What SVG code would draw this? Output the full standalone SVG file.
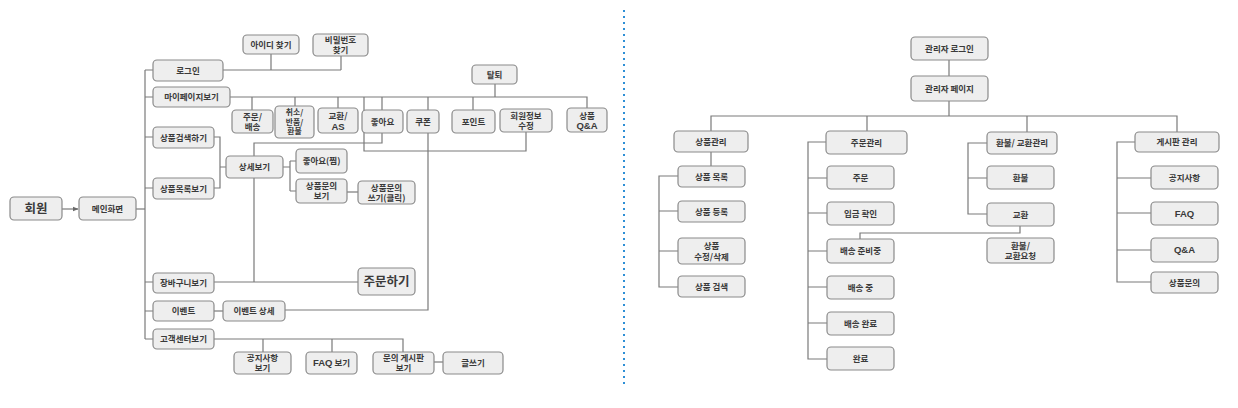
<svg xmlns="http://www.w3.org/2000/svg" width="1238" height="408" viewBox="0 0 1238 408">
<defs>
<style>
.n rect{fill:#eeeeee;stroke:#8a8a8a;stroke-width:1.2}
.n text{font-family:"Noto Sans CJK KR","Noto Sans",sans-serif;font-size:8.5px;font-weight:700;fill:#3a3a3a;text-anchor:middle}
.n text.big{font-size:12.5px}
.n text.sm{font-size:7.8px}
.n tspan.lat{font-family:"Liberation Sans",Arial,sans-serif;font-size:9.5px}
.c path{fill:none;stroke:#7a7a7a;stroke-width:1.2}
.div{stroke:#2e8fd6;stroke-width:2;stroke-dasharray:2 4}
</style>
<marker id="arr" viewBox="0 0 10 10" refX="9" refY="5" markerWidth="5" markerHeight="5" orient="auto">
<path d="M0,1 L10,5 L0,9 Z" fill="#6a6a6a"/>
</marker>
</defs>
<rect width="1238" height="408" fill="#ffffff"/>
<line class="div" x1="624" y1="10" x2="624" y2="388"/>

<g id="connectors" class="c">
<path d="M62,209 H78" marker-end="url(#arr)"/>
<path d="M136,209 H145"/>
<path d="M145,70 V339"/>
<path d="M145,70 H153 M145,97 H153 M145,137 H153 M145,188 H153 M145,282 H153 M145,311 H153 M145,339 H153"/>
<path d="M223,70 H341 M271,54 V70 M341,55 V70"/>
<path d="M230,97 H587 V108 M252,97 V110 M295,97 V106 M338,97 V108 M382,97 V110 M428,97 V110 M473,97 V110 M495,84 V97"/>
<path d="M364,97 V151 H526 V132"/>
<path d="M382,133 V143 H254 V156 M254,178 V282"/>
<path d="M428,133 V310 H285"/>
<path d="M214,137 H220 V188 H214 M220,167 H226"/>
<path d="M283,167 H290 M290,161 V191 M290,161 H296 M290,191 H296"/>
<path d="M347,192 H358"/>
<path d="M214,282 H358"/>
<path d="M214,311 H223"/>
<path d="M214,339 H403 V352 M263,339 V352 M332,339 V352"/>
<path d="M434,362 H443"/>

<path d="M949,60 V76 M949,101 V116"/>
<path d="M711,131 V116 H1177 V132 M867,116 V131 M1027,116 V132"/>
<path d="M711,152 V166"/>
<path d="M678,176 H659 V287 H678 M659,211 H678 M659,251 H678"/>
<path d="M826,142 H808 V359 H827 M808,178 H827 M808,213 H827 M808,251 H827 M808,287 H827 M808,323 H827"/>
<path d="M987,143 H968 V214 H987 M968,178 H987"/>
<path d="M860,239 V233 H1020 V226"/>
<path d="M1135,142 H1117 V282 H1151 M1117,178 H1151 M1117,213 H1151 M1117,250 H1151"/>
</g>

<g id="n-member" class="n"><rect x="10" y="197" width="52" height="23" rx="4"/><text class="big" x="36" y="213">회원</text></g>
<g id="n-main" class="n"><rect x="79" y="197" width="57" height="23" rx="4"/><text x="107.5" y="211.5">메인화면</text></g>
<g id="n-login" class="n"><rect x="153" y="60" width="70" height="21" rx="4"/><text x="188" y="73.5">로그인</text></g>
<g id="n-mypage" class="n"><rect x="153" y="87" width="77" height="20" rx="4"/><text x="191.5" y="100">마이페이지보기</text></g>
<g id="n-search" class="n"><rect x="153" y="127" width="61" height="21" rx="4"/><text x="183.5" y="140.5">상품검색하기</text></g>
<g id="n-list" class="n"><rect x="153" y="178" width="61" height="21" rx="4"/><text x="183.5" y="191.5">상품목록보기</text></g>
<g id="n-findid" class="n"><rect x="243" y="35" width="56" height="19" rx="4"/><text x="271" y="47.5">아이디 찾기</text></g>
<g id="n-findpw" class="n"><rect x="313" y="34" width="55" height="22" rx="4"/><text x="340.5" y="43">비밀번호</text><text x="340.5" y="53">찾기</text></g>
<g id="n-order" class="n"><rect x="232" y="110" width="41" height="23" rx="4"/><text x="252.5" y="119.5">주문/</text><text x="252.5" y="129.5">배송</text></g>
<g id="n-cancel" class="n"><rect x="275" y="106" width="39" height="32" rx="4"/><text class="sm" x="294.5" y="115">취소/</text><text class="sm" x="294.5" y="124.5">반품/</text><text class="sm" x="294.5" y="134">환불</text></g>
<g id="n-exch" class="n"><rect x="318" y="108" width="40" height="25" rx="4"/><text x="338" y="119">교환/</text><text x="338" y="130"><tspan class="lat">AS</tspan></text></g>
<g id="n-like" class="n"><rect x="362" y="110" width="41" height="23" rx="4"/><text x="382.5" y="124.5">좋아요</text></g>
<g id="n-coupon" class="n"><rect x="407" y="110" width="32" height="23" rx="4"/><text x="423" y="124.5">쿠폰</text></g>
<g id="n-point" class="n"><rect x="452" y="110" width="43" height="23" rx="4"/><text x="473.5" y="124.5">포인트</text></g>
<g id="n-edit" class="n"><rect x="500" y="109" width="52" height="23" rx="4"/><text x="526" y="118.5">회원정보</text><text x="526" y="128.5">수정</text></g>
<g id="n-qa" class="n"><rect x="567" y="108" width="40" height="24" rx="4"/><text x="587" y="118.5">상품</text><text x="587" y="129"><tspan class="lat">Q&amp;A</tspan></text></g>
<g id="n-quit" class="n"><rect x="472" y="65" width="45" height="19" rx="4"/><text x="494.5" y="77.5">탈퇴</text></g>
<g id="n-detail" class="n"><rect x="226" y="156" width="57" height="22" rx="4"/><text x="254.5" y="170">상세보기</text></g>
<g id="n-wish" class="n"><rect x="296" y="149" width="51" height="24" rx="4"/><text x="321.5" y="164">좋아요(찜)</text></g>
<g id="n-inq" class="n"><rect x="296" y="179" width="51" height="24" rx="4"/><text x="321.5" y="189">상품문의</text><text x="321.5" y="199">보기</text></g>
<g id="n-inqw" class="n"><rect x="358" y="181" width="57" height="23" rx="4"/><text x="386.5" y="190.5">상품문의</text><text x="386.5" y="200.5">쓰기(클릭)</text></g>
<g id="n-cart" class="n"><rect x="153" y="273" width="61" height="20" rx="4"/><text x="183.5" y="286">장바구니보기</text></g>
<g id="n-buy" class="n"><rect x="358" y="268" width="57" height="27" rx="4"/><text class="big" x="386.5" y="286">주문하기</text></g>
<g id="n-event" class="n"><rect x="153" y="301" width="61" height="20" rx="4"/><text x="183.5" y="314">이벤트</text></g>
<g id="n-eventd" class="n"><rect x="223" y="301" width="62" height="20" rx="4"/><text x="254" y="314">이벤트 상세</text></g>
<g id="n-cs" class="n"><rect x="153" y="329" width="61" height="20" rx="4"/><text x="183.5" y="342">고객센터보기</text></g>
<g id="n-notice" class="n"><rect x="234" y="352" width="57" height="22" rx="4"/><text x="262.5" y="360.5">공지사항</text><text x="262.5" y="370.5">보기</text></g>
<g id="n-faq" class="n"><rect x="306" y="352" width="51" height="22" rx="4"/><text x="331.5" y="366"><tspan class="lat">FAQ</tspan> 보기</text></g>
<g id="n-board" class="n"><rect x="373" y="352" width="61" height="22" rx="4"/><text x="403.5" y="360.5">문의 게시판</text><text x="403.5" y="370.5">보기</text></g>
<g id="n-write" class="n"><rect x="443" y="352" width="60" height="22" rx="4"/><text x="473" y="366">글쓰기</text></g>

<g id="a-login" class="n"><rect x="911" y="37" width="77" height="23" rx="4"/><text x="949.5" y="51.5">관리자 로그인</text></g>
<g id="a-page" class="n"><rect x="911" y="76" width="77" height="25" rx="4"/><text x="949.5" y="91.5">관리자 페이지</text></g>
<g id="a-prod" class="n"><rect x="674" y="131" width="74" height="21" rx="4"/><text x="711" y="144.5">상품관리</text></g>
<g id="a-order" class="n"><rect x="826" y="131" width="81" height="23" rx="4"/><text x="866.5" y="145.5">주문관리</text></g>
<g id="a-refund" class="n"><rect x="987" y="132" width="70" height="22" rx="4"/><text x="1022" y="146">환불/ 교환관리</text></g>
<g id="a-board" class="n"><rect x="1135" y="132" width="84" height="20" rx="4"/><text x="1177" y="145">게시판 관리</text></g>
<g id="a-plist" class="n"><rect x="678" y="166" width="67" height="21" rx="4"/><text x="711.5" y="179.5">상품 목록</text></g>
<g id="a-preg" class="n"><rect x="678" y="201" width="67" height="21" rx="4"/><text x="711.5" y="214.5">상품 등록</text></g>
<g id="a-pedit" class="n"><rect x="678" y="238" width="67" height="26" rx="4"/><text x="711.5" y="249">상품</text><text x="711.5" y="259.5">수정/삭제</text></g>
<g id="a-psearch" class="n"><rect x="678" y="276" width="67" height="21" rx="4"/><text x="711.5" y="289.5">상품 검색</text></g>
<g id="a-o1" class="n"><rect x="827" y="166" width="67" height="23" rx="4"/><text x="860.5" y="180.5">주문</text></g>
<g id="a-o2" class="n"><rect x="827" y="202" width="67" height="23" rx="4"/><text x="860.5" y="216.5">입금 확인</text></g>
<g id="a-o3" class="n"><rect x="827" y="239" width="67" height="24" rx="4"/><text x="860.5" y="254">배송 준비중</text></g>
<g id="a-o4" class="n"><rect x="827" y="276" width="67" height="23" rx="4"/><text x="860.5" y="290.5">배송 중</text></g>
<g id="a-o5" class="n"><rect x="827" y="312" width="67" height="23" rx="4"/><text x="860.5" y="326.5">배송 완료</text></g>
<g id="a-o6" class="n"><rect x="827" y="347" width="67" height="23" rx="4"/><text x="860.5" y="361.5">완료</text></g>
<g id="a-r1" class="n"><rect x="987" y="166" width="67" height="23" rx="4"/><text x="1020.5" y="180.5">환불</text></g>
<g id="a-r2" class="n"><rect x="987" y="203" width="67" height="23" rx="4"/><text x="1020.5" y="217.5">교환</text></g>
<g id="a-r3" class="n"><rect x="987" y="238" width="67" height="25" rx="4"/><text x="1020.5" y="248.5">환불/</text><text x="1020.5" y="259">교환요청</text></g>
<g id="a-b1" class="n"><rect x="1151" y="166" width="67" height="23" rx="4"/><text x="1184.5" y="180.5">공지사항</text></g>
<g id="a-b2" class="n"><rect x="1151" y="202" width="67" height="23" rx="4"/><text x="1184.5" y="216.5"><tspan class="lat">FAQ</tspan></text></g>
<g id="a-b3" class="n"><rect x="1151" y="238" width="67" height="24" rx="4"/><text x="1184.5" y="253"><tspan class="lat">Q&amp;A</tspan></text></g>
<g id="a-b4" class="n"><rect x="1151" y="272" width="67" height="21" rx="4"/><text x="1184.5" y="285.5">상품문의</text></g>
</svg>
